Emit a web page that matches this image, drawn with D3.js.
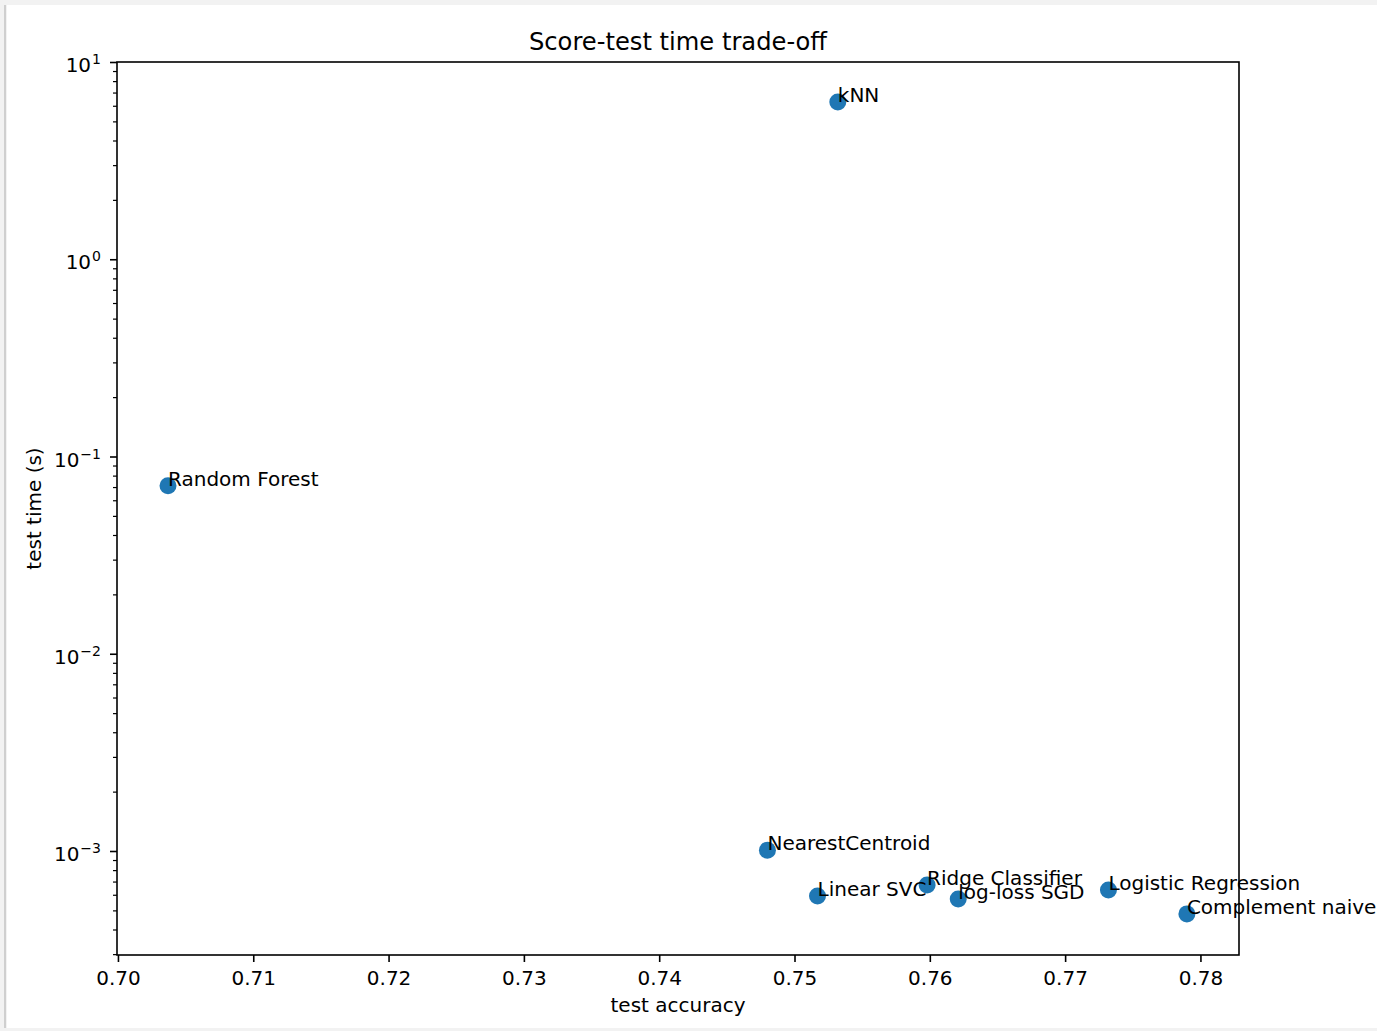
<!DOCTYPE html>
<html>
<head>
<meta charset="utf-8">
<script src="https://cdn.jsdelivr.net/npm/d3@7"></script>
<style>
  html, body { margin: 0; padding: 0; background: #ffffff; }
  svg { display: block; font-family: "DejaVu Sans", sans-serif; }
</style>
</head>
<body>
<svg id="chart"></svg>
<script>
const names = ["Random Forest", "kNN", "NearestCentroid", "Linear SVC", "Ridge Classifier",
  "log-loss SGD", "Logistic Regression", "Complement naive Bayes"];
const accuracy = [0.7037, 0.7532, 0.7480, 0.7517, 0.7598, 0.7621, 0.7732, 0.7790];
const testTime = [0.0710, 6.27, 0.00101, 0.000592, 0.000673, 0.000571, 0.000635, 0.000480];

const xTicks = [0.70, 0.71, 0.72, 0.73, 0.74, 0.75, 0.76, 0.77, 0.78];
const yTicks = [1e-3, 1e-2, 1e-1, 1, 10];
const yExponents = ["−3", "−2", "−1", "0", "1"];

const width = 1377, height = 1031;
const margin = { top: 62, right: 138, bottom: 76, left: 117 };
const fontSize = 20;

const svg = d3.select("#chart")
  .attr("width", width)
  .attr("height", height);

// screenshot frame
svg.append("rect").attr("x", 0).attr("y", 0).attr("width", width).attr("height", height).attr("fill", "#f2f2f2");
svg.append("rect").attr("x", 7).attr("y", 5).attr("width", width - 7).attr("height", 1023).attr("fill", "#ffffff");
svg.append("rect").attr("x", 4).attr("y", 5).attr("width", 2).attr("height", 1023).attr("fill", "#cfcfcf");

const x = d3.scaleLinear()
  .domain([0.69993, 0.78285])
  .range([margin.left, width - margin.right]);

const y = d3.scaleLog()
  .domain([2.97e-4, 10])
  .range([height - margin.bottom, margin.top]);

// minor ticks of the log axis
const minorTicks = [];
for (let e = -4; e <= 0; e++) {
  for (let m = 2; m <= 9; m++) {
    const v = m * Math.pow(10, e);
    if (v >= y.domain()[0] && v <= y.domain()[1]) minorTicks.push(v);
  }
}

const xAxis = g => g
  .attr("transform", `translate(0,${height - margin.bottom})`)
  .call(d3.axisBottom(x).tickValues(xTicks).tickFormat(d3.format(".2f")).tickSize(7).tickPadding(9).tickSizeOuter(0))
  .call(g => g.select(".domain").remove())
  .call(g => g.selectAll(".tick line").attr("stroke", "#000").attr("stroke-width", 1.6))
  .call(g => g.selectAll(".tick text").attr("fill", "#000").attr("font-size", fontSize)
    .attr("font-family", "DejaVu Sans"));

const yAxis = g => g
  .attr("transform", `translate(${margin.left},0)`)
  .call(d3.axisLeft(y).tickValues(yTicks).tickFormat("").tickSize(7).tickSizeOuter(0))
  .call(g => g.select(".domain").remove())
  .call(g => g.selectAll(".tick line").attr("stroke", "#000").attr("stroke-width", 1.6));

const yMinor = g => g
  .attr("transform", `translate(${margin.left},0)`)
  .call(d3.axisLeft(y).tickValues(minorTicks).tickFormat("").tickSize(4).tickSizeOuter(0))
  .call(g => g.select(".domain").remove())
  .call(g => g.selectAll(".tick line").attr("stroke", "#000").attr("stroke-width", 1.2));

svg.append("g").call(xAxis);
svg.append("g").call(yAxis);
svg.append("g").call(yMinor);

// y tick labels as 10 with superscript exponent
const yLabels = svg.append("g")
  .attr("font-size", fontSize)
  .attr("fill", "#000")
  .attr("text-anchor", "end")
  .selectAll("text")
  .data(yTicks)
  .join("text")
  .attr("x", margin.left - 16)
  .attr("y", d => y(d) + 10);
yLabels.append("tspan").text("10");
yLabels.append("tspan")
  .attr("font-size", 14)
  .attr("dy", -8)
  .attr("dx", 1)
  .text((d, i) => yExponents[i]);

// plot frame
svg.append("rect")
  .attr("x", margin.left)
  .attr("y", margin.top)
  .attr("width", width - margin.left - margin.right)
  .attr("height", height - margin.top - margin.bottom)
  .attr("fill", "none")
  .attr("stroke", "#000")
  .attr("stroke-width", 1.6);

// points
svg.append("g")
  .attr("fill", "#1f77b4")
  .selectAll("circle")
  .data(names)
  .join("circle")
  .attr("cx", (d, i) => x(accuracy[i]))
  .attr("cy", (d, i) => y(testTime[i]))
  .attr("r", 8.5);

// point labels
svg.append("g")
  .attr("font-size", fontSize)
  .attr("fill", "#000")
  .selectAll("text")
  .data(names)
  .join("text")
  .attr("x", (d, i) => x(accuracy[i]))
  .attr("y", (d, i) => y(testTime[i]))
  .text(d => d);

// title and axis labels
svg.append("text")
  .attr("x", (margin.left + width - margin.right) / 2)
  .attr("y", 50)
  .attr("text-anchor", "middle")
  .attr("font-size", 24.2)
  .text("Score-test time trade-off");

svg.append("text")
  .attr("x", (margin.left + width - margin.right) / 2)
  .attr("y", 1012)
  .attr("text-anchor", "middle")
  .attr("font-size", fontSize)
  .text("test accuracy");

svg.append("text")
  .attr("transform", `translate(41,${(margin.top + height - margin.bottom) / 2}) rotate(-90)`)
  .attr("text-anchor", "middle")
  .attr("font-size", fontSize)
  .text("test time (s)");
</script>
</body>
</html>
